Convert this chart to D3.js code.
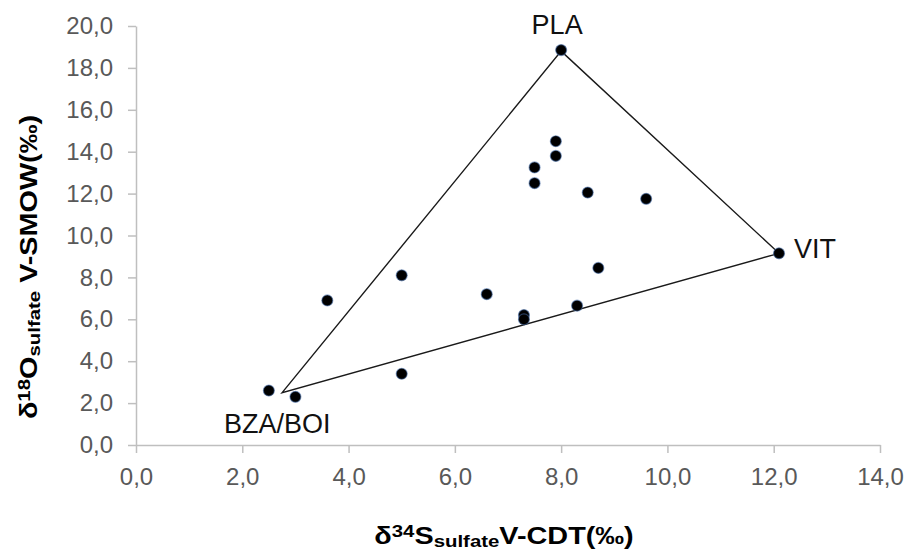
<!DOCTYPE html>
<head>
  <meta charset="utf-8">
  <script src="https://d3js.org/d3.v7.min.js"></script>
  <style>
    body { margin:0; background:#fff; }
    text { font-family: "Liberation Sans", Arial, sans-serif; }
    .axis path, .axis line { stroke:#bfbfbf; stroke-width:1.5; }
    .axis text { fill:#595959; font-size:24px; font-family:"Liberation Sans", Arial, sans-serif; }
  </style>
</head>

<body>
<script>

  // samples: d34S (x) and d18O (y)
  var sampleX = [2.5, 3.0, 3.6, 5.0, 5.0, 6.6, 7.3, 7.3, 8.3, 8.7, 7.9, 7.9, 7.5, 7.5, 8.5, 9.6, 8.0, 12.1];
  var sampleY = [2.6, 2.3, 6.9, 8.1, 3.4, 7.2, 6.2, 6.0, 6.65, 8.45, 14.5, 13.8, 13.25, 12.5, 12.05, 11.75, 18.85, 9.15];

  // end members of the mixing triangle
  var endNames = ["BZA/BOI", "PLA", "VIT"];
  var endX = [2.75, 8.0, 12.1];
  var endY = [2.5, 18.8, 9.15];

  var xTicks = [0, 2, 4, 6, 8, 10, 12, 14];
  var yTicks = [0, 2, 4, 6, 8, 10, 12, 14, 16, 18, 20];

  var width = 908, height = 551;
  var margin = {top: 26, right: 28, bottom: 106, left: 136};

  var svg = d3.select("body").append("svg")
    .attr("width", width)
    .attr("height", height);

  var x = d3.scaleLinear().domain([0, 14]).range([margin.left, width - margin.right]);
  var y = d3.scaleLinear().domain([0, 20]).range([height - margin.bottom, margin.top]);

  var loc = d3.formatLocale({decimal: ",", thousands: ".", grouping: [3], currency: ["", ""]});
  var fmt = loc.format(".1f");

  svg.append("g")
    .attr("class", "axis")
    .attr("transform", "translate(0," + y(0) + ")")
    .call(d3.axisBottom(x).tickValues(xTicks).tickFormat(fmt).tickSize(8).tickSizeOuter(0).tickPadding(15));

  svg.append("g")
    .attr("class", "axis")
    .attr("transform", "translate(" + x(0) + ",0)")
    .call(d3.axisLeft(y).tickValues(yTicks).tickFormat(fmt).tickSize(8).tickSizeOuter(0).tickPadding(15));

  // triangle
  var tri = endX.map(function(d, i){ return [x(d), y(endY[i])]; });
  svg.append("path")
    .attr("d", d3.line()(tri) + "Z")
    .attr("fill", "none")
    .attr("stroke", "#1a1a1a")
    .attr("stroke-width", 1.4);

  // dots
  svg.append("g").selectAll("circle")
    .data(sampleX)
    .enter()
    .append("circle")
    .attr("cx", function(d){ return x(d); })
    .attr("cy", function(d, i){ return y(sampleY[i]); })
    .attr("r", 5.5)
    .attr("fill", "#000")
    .attr("stroke", "rgba(70,110,170,0.55)")
    .attr("stroke-width", 1.2);

  // end member labels
  var labelOff = [[-5, 40, "middle"], [-4, -17, "middle"], [15, 5, "start"]];
  svg.append("g").selectAll("text")
    .data(endNames)
    .enter()
    .append("text")
    .attr("x", function(d, i){ return x(endX[i]) + labelOff[i][0]; })
    .attr("y", function(d, i){ return y(endY[i]) + labelOff[i][1]; })
    .attr("text-anchor", function(d, i){ return labelOff[i][2]; })
    .attr("font-size", 27)
    .attr("fill", "#111")
    .text(function(d){ return d; });

  // x title (the original is drawn a bit wider)
  var xt = svg.append("text")
    .attr("transform", "translate(504,544) scale(1.2,1)")
    .attr("text-anchor", "middle")
    .attr("font-size", 24)
    .attr("font-weight", "bold")
    .attr("fill", "#000");
  xt.append("tspan").text("δ");
  xt.append("tspan").attr("font-size", 17).attr("dy", -7).text("34");
  xt.append("tspan").attr("dy", 7).text("S");
  xt.append("tspan").attr("font-size", 17).attr("dy", 3).text("sulfate");
  xt.append("tspan").attr("dy", -3).text("V-CDT(‰)");

  // y title
  var yt = svg.append("text")
    .attr("transform", "translate(37,267) rotate(-90) scale(1.2,1)")
    .attr("text-anchor", "middle")
    .attr("font-size", 24)
    .attr("font-weight", "bold")
    .attr("fill", "#000");
  yt.append("tspan").text("δ");
  yt.append("tspan").attr("font-size", 17).attr("dy", -7).text("18");
  yt.append("tspan").attr("dy", 7).text("O");
  yt.append("tspan").attr("font-size", 17).attr("dy", 3).text("sulfate");
  yt.append("tspan").attr("dy", -3).text(" V-SMOW(‰)");

</script>
</body>
